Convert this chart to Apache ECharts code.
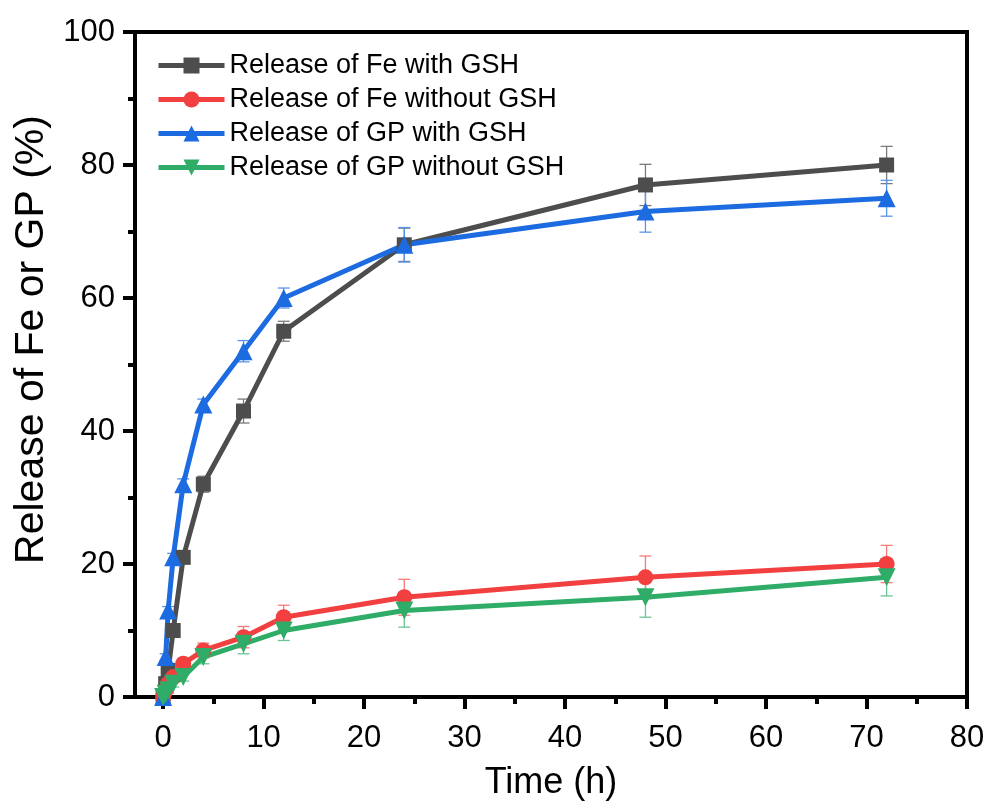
<!DOCTYPE html>
<html><head><meta charset="utf-8">
<script src="https://cdn.jsdelivr.net/npm/echarts@6/dist/echarts.min.js"></script>
<style>html,body{margin:0;padding:0;background:#fff}#c{width:992px;height:809px}</style>
</head><body><div id="c"></div>
<script>
const times = [0, 0.25, 0.5, 1, 2, 4, 8, 12, 24, 48, 72];
const feWith = [0, 2, 4, 10, 21, 32, 43, 55, 68, 77, 80];
const feWithErr = [0, 0.4, 0.5, 0.6, 0.8, 1.2, 1.8, 1.5, 2.5, 3.1, 2.8];
const feWithout = [0, 1, 2, 3, 5, 7, 9, 12, 15, 18, 20];
const feWithoutErr = [0, 0.4, 0.5, 0.6, 0.8, 1.1, 1.6, 1.8, 2.7, 3.2, 2.8];
const gpWith = [0, 6, 13, 21, 32, 44, 52, 60, 68, 73, 75];
const gpWithErr = [0, 0.5, 0.6, 0.6, 0.8, 0.8, 1.6, 1.5, 2.6, 3.1, 2.7];
const gpWithout = [0, 0.5, 1, 2, 3, 6, 8, 10, 13, 15, 18];
const gpWithoutErr = [0, 0.3, 0.4, 0.5, 0.6, 1.0, 1.5, 1.5, 2.5, 3.0, 2.8];
const names = ['Release of Fe with GSH', 'Release of Fe without GSH', 'Release of GP with GSH', 'Release of GP without GSH'];
const xMajor = [0, 10, 20, 30, 40, 50, 60, 70, 80];
const xMinor = [5, 15, 25, 35, 45, 55, 65, 75];

const colors = ['#4d4d4d', '#f23f3f', '#1c6be0', '#2fad68'];
const errColors = ['#7a7a7a', '#f57a7a', '#5b95ea', '#6cc495'];
const FONT = 'Liberation Sans, Arial, sans-serif';

function pairs(ys) { return times.map((t, i) => [t, ys[i]]); }
function errData(ys, es) { return times.map((t, i) => [t, ys[i], es[i]]); }

function errSeries(ys, es, idx) {
  return {
    type: 'custom', name: names[idx] + ' err', z: 3,
    data: errData(ys, es),
    renderItem: function (params, api) {
      const x = api.value(0), y = api.value(1), e = api.value(2);
      if (!e) return null;
      const top = api.coord([x, y + e]);
      const bot = api.coord([x, y - e]);
      const hw = 6;
      const st = { stroke: errColors[idx], lineWidth: 1.3 };
      return { type: 'group', children: [
        { type: 'line', shape: { x1: top[0], y1: top[1], x2: bot[0], y2: bot[1] }, style: st },
        { type: 'line', shape: { x1: top[0] - hw, y1: top[1], x2: top[0] + hw, y2: top[1] }, style: st },
        { type: 'line', shape: { x1: bot[0] - hw, y1: bot[1], x2: bot[0] + hw, y2: bot[1] }, style: st }
      ]};
    },
    silent: true, tooltip: { show: false }
  };
}

function lineSeries(ys, idx, symbol, size, rot) {
  return {
    type: 'line', name: names[idx], data: pairs(ys), z: 4,
    symbol: symbol, symbolSize: size, symbolRotate: rot || 0,
    showAllSymbol: true,
    lineStyle: { color: colors[idx], width: 5 },
    itemStyle: { color: colors[idx] },
    emphasis: { disabled: true }
  };
}

const chart = echarts.init(document.getElementById('c'), null, { renderer: 'canvas' });
const axisLineStyle = { color: '#000', width: 4 };
chart.setOption({
  animation: false,
  color: colors,
  grid: { left: 135, right: 25, top: 32, bottom: 112, show: true, borderColor: '#000', borderWidth: 4, backgroundColor: 'transparent' },
  legend: {
    data: names, orient: 'vertical', left: 151, top: 47, itemWidth: 66, itemHeight: 20, itemGap: 7,
    lineStyle: { width: 5 },
    textStyle: { fontFamily: FONT, fontSize: 27, lineHeight: 27, color: '#000' }
  },
  xAxis: [{
    type: 'value', min: -2.8, max: 80,
    name: 'Time (h)', nameLocation: 'middle', nameGap: 68,
    nameTextStyle: { fontFamily: FONT, fontSize: 36, color: '#000' },
    axisLine: { show: true, onZero: false, lineStyle: axisLineStyle },
    axisTick: { show: true, customValues: xMajor, length: 12, lineStyle: { width: 4, color: '#000' } },
    axisLabel: { customValues: xMajor, fontFamily: FONT, fontSize: 31, color: '#000', margin: 26 },
    splitLine: { show: false }
  }, {
    type: 'value', min: -2.8, max: 80, position: 'bottom',
    axisLine: { show: false },
    axisTick: { show: true, customValues: xMinor, length: 7, lineStyle: { width: 4, color: '#000' } },
    axisLabel: { show: false, customValues: xMinor },
    splitLine: { show: false }
  }],
  yAxis: {
    type: 'value', min: 0, max: 100, interval: 20,
    name: 'Release of Fe or GP (%)', nameLocation: 'middle', nameGap: 83,
    nameTextStyle: { fontFamily: FONT, fontSize: 41, color: '#000', padding: [0, 0, 0, 50] },
    axisLine: { show: true, onZero: false, lineStyle: axisLineStyle },
    axisTick: { show: true, length: 12, lineStyle: { width: 4, color: '#000' } },
    minorTick: { show: true, splitNumber: 2, length: 7, lineStyle: { width: 4, color: '#000' } },
    axisLabel: { fontFamily: FONT, fontSize: 31, color: '#000', margin: 20 },
    splitLine: { show: false }
  },
  series: [
    errSeries(feWith, feWithErr, 0),
    errSeries(feWithout, feWithoutErr, 1),
    errSeries(gpWith, gpWithErr, 2),
    errSeries(gpWithout, gpWithoutErr, 3),
    lineSeries(feWith, 0, 'rect', 15),
    lineSeries(feWithout, 1, 'circle', 16),
    lineSeries(gpWith, 2, 'triangle', 18),
    lineSeries(gpWithout, 3, 'triangle', 18, 180)
  ]
});
</script></body></html>
